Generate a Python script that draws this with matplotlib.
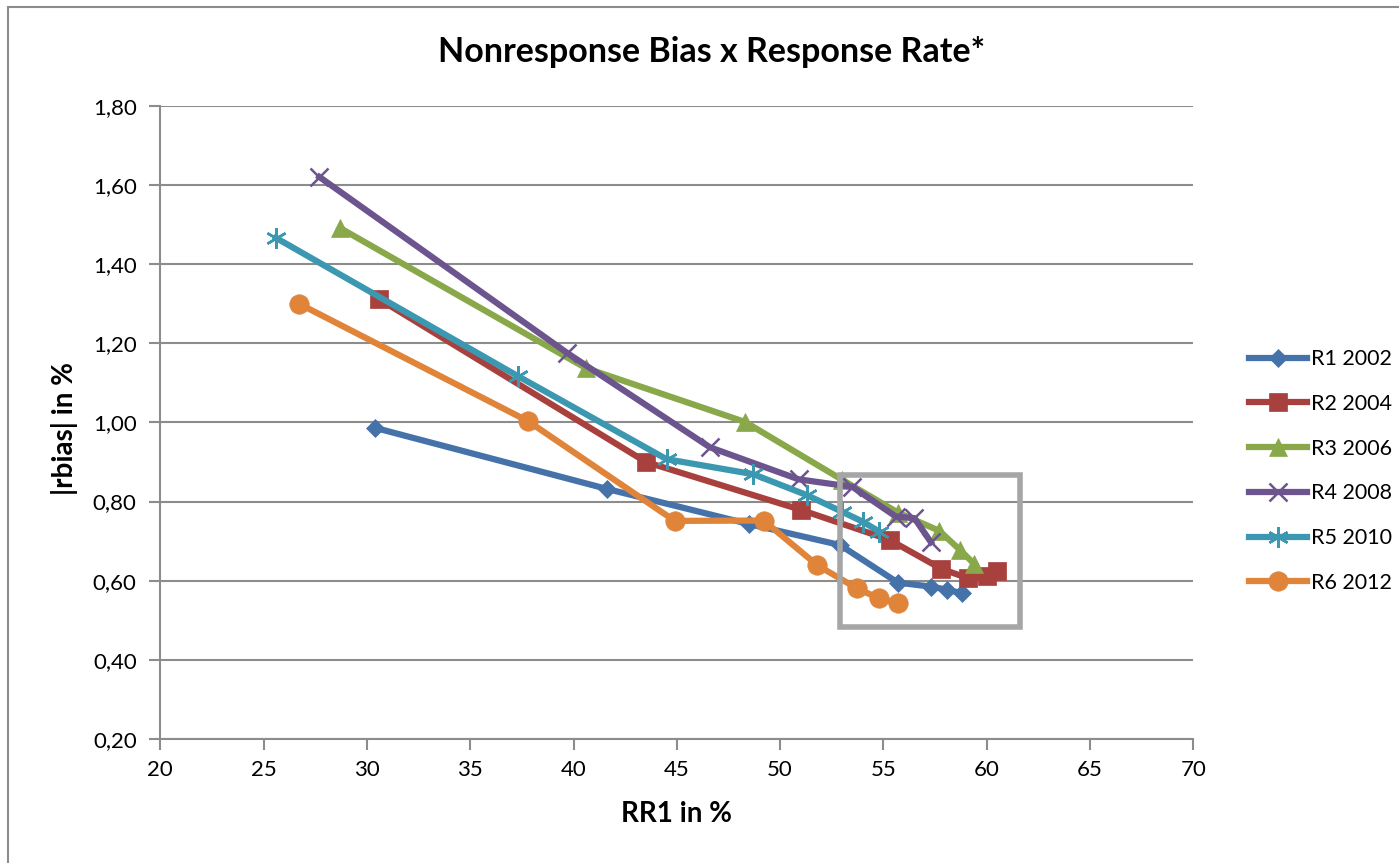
import matplotlib
matplotlib.use("Agg")
import matplotlib.pyplot as plt
from matplotlib.patches import Rectangle
from matplotlib.ticker import FuncFormatter

plt.rcParams['font.family'] = ['Lato', 'DejaVu Sans']

series_names = ["R1 2002", "R2 2004", "R3 2006", "R4 2008", "R5 2010", "R6 2012"]

r1_x = [30.4, 41.6, 48.5, 52.9, 55.7, 57.3, 58.1, 58.8]
r1_y = [0.986, 0.832, 0.743, 0.690, 0.595, 0.585, 0.577, 0.568]

r2_x = [30.6, 43.5, 51.0, 55.3, 57.8, 59.1, 60.0, 60.5]
r2_y = [1.311, 0.900, 0.779, 0.703, 0.630, 0.606, 0.612, 0.625]

r3_x = [28.7, 40.6, 48.3, 53.0, 55.7, 57.7, 58.7, 59.4]
r3_y = [1.491, 1.137, 1.001, 0.855, 0.772, 0.726, 0.678, 0.642]

r4_x = [27.7, 39.7, 46.6, 50.9, 53.5, 55.6, 56.5, 57.3]
r4_y = [1.620, 1.175, 0.937, 0.856, 0.837, 0.762, 0.758, 0.697]

r5_x = [25.6, 37.3, 44.5, 48.7, 51.3, 53.0, 54.0, 54.8]
r5_y = [1.466, 1.117, 0.907, 0.869, 0.816, 0.774, 0.749, 0.724]

r6_x = [26.7, 37.8, 44.9, 49.2, 51.8, 53.7, 54.8, 55.7]
r6_y = [1.300, 1.003, 0.751, 0.752, 0.639, 0.581, 0.555, 0.543]

xs = [r1_x, r2_x, r3_x, r4_x, r5_x, r6_x]
ys = [r1_y, r2_y, r3_y, r4_y, r5_y, r6_y]

colors = ["#4672AA", "#A8403D", "#88A84A", "#6C558E", "#3C98B0", "#E0843A"]
markers = ["D", "s", "^", "x", "*", "o"]
msizes = [9, 13, 13, 13, 13, 14]

fig = plt.figure(figsize=(13.99, 8.63), dpi=100)
ax = fig.add_axes([0.1146, 0.1437, 0.7384, 0.7338])

# outer chart border
fig.patches.append(Rectangle((8 / 1399, -0.05), 1.2, 1 - 7 / 863 + 0.05, transform=fig.transFigure,
                             fill=False, edgecolor="#8C8C8C", linewidth=1.5))

for i in range(6):
    m = markers[i]
    if m == "x":
        ax.plot(xs[i], ys[i], color=colors[i], linewidth=4.5, marker="x", markersize=13,
                markeredgewidth=1.8, label=series_names[i], zorder=3 + i * 0.1)
    elif m == "*":
        ax.plot(xs[i], ys[i], color=colors[i], linewidth=4.5, marker=(6, 2, 0), markersize=15,
                markeredgewidth=1.8, label=series_names[i], zorder=3 + i * 0.1)
    else:
        ax.plot(xs[i], ys[i], color=colors[i], linewidth=4.5, marker=m, markersize=msizes[i],
                markeredgewidth=0.5, markerfacecolor=colors[i], markeredgecolor=colors[i],
                label=series_names[i], zorder=3 + i * 0.1)

# highlight box
ax.add_patch(Rectangle((52.9, 0.483), 61.6 - 52.9, 0.867 - 0.483, fill=False,
                       edgecolor="#A6A6A6", linewidth=4, zorder=5))

ax.set_xlim(20, 70)
ax.set_ylim(0.2, 1.8)
ax.set_xticks(range(20, 71, 5))
ax.set_yticks([0.2, 0.4, 0.6, 0.8, 1.0, 1.2, 1.4, 1.6, 1.8])
ax.yaxis.set_major_formatter(FuncFormatter(lambda v, p: f"{v:.2f}".replace(".", ",")))
ax.grid(axis="y", color="#8C8C8C", linewidth=1.5)
ax.set_axisbelow(True)
for s in ["top", "right"]:
    ax.spines[s].set_visible(False)
for s in ["left", "bottom"]:
    ax.spines[s].set_color("#8C8C8C")
    ax.spines[s].set_linewidth(1.5)
ax.tick_params(axis="both", colors="#8C8C8C", labelcolor="black", labelsize=16,
               length=8, width=1.5, direction="out")
ax.tick_params(axis="x", pad=7)
ax.tick_params(axis="y", pad=9)

fig.text(712 / 1399, 1 - 62 / 863, "Nonresponse Bias x Response Rate*", fontsize=24.5,
         fontweight="bold", ha="center", va="baseline")
ax.set_xlabel("RR1 in %", fontsize=20, fontweight="bold")
ax.set_ylabel("|rbias| in %", fontsize=20, fontweight="bold")
ax.xaxis.set_label_coords(0.5, -0.098)
ax.yaxis.set_label_coords(-0.08, 0.49)

leg = fig.legend(loc="center left", bbox_to_anchor=(1240 / 1399, 1 - 471 / 863), frameon=False,
                 fontsize=15.5, handlelength=2.7, handletextpad=0.2, labelspacing=1.15,
                 borderaxespad=0)

fig.savefig("out.png", dpi=100)
